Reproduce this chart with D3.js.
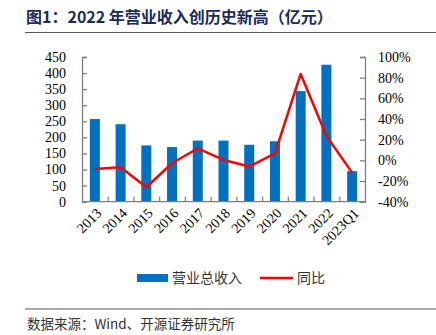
<!DOCTYPE html>
<html><head><meta charset="utf-8">
<script src="https://cdn.jsdelivr.net/npm/d3@7/dist/d3.min.js"></script>
<style>body{margin:0;background:#fff}svg{display:block}</style>
</head><body>
<svg id="c" width="436" height="335"></svg>
<script>
const categories = ["2013","2014","2015","2016","2017","2018","2019","2020","2021","2022","2023Q1"];
const revenue = [257, 241, 175, 170, 190, 190, 177, 188, 344, 426, 95];
const yoy = [-8.3, -6.7, -26, -2.8, 11.7, 0.4, -6, 6.8, 83.6, 23.6, -11.9];
const leftTicks = [0,50,100,150,200,250,300,350,400,450];
const rightTicks = [-40,-20,0,20,40,60,80,100];

const svg = d3.select("#c");
const serif = "'Liberation Serif','Times New Roman',serif";
const cjk = "'Noto Sans CJK SC','Noto Sans',sans-serif";
const L = 82, R = 365, T = 57, B = 201.7;

svg.append("text").attr("x",26).attr("y",23).attr("font-family",cjk).attr("font-weight","bold")
  .attr("font-size",16).attr("fill","#1c2a5c").text("图1：2022 年营业收入创历史新高（亿元）");
svg.append("line").attr("x1",25).attr("x2",436).attr("y1",32.5).attr("y2",32.5).attr("stroke","#555").attr("stroke-width",1.2);

const x = d3.scaleBand().domain(categories).range([L,R]);
const yL = d3.scaleLinear().domain([0,450]).range([B,T]);
const yR = d3.scaleLinear().domain([-40,100]).range([B,T]);

svg.selectAll("rect.bar").data(revenue).enter().append("rect").attr("class","bar")
  .attr("x",(d,i)=>x(categories[i])+x.bandwidth()/2-5).attr("width",10)
  .attr("y",d=>yL(d)).attr("height",d=>yL(0)-yL(d)).attr("fill","#0070c0");

const axCol = "#808080";
const gL = svg.append("g").attr("transform",`translate(${L},0)`)
  .call(d3.axisRight(yL).tickValues(leftTicks).tickSize(5).tickFormat(""));
const gR = svg.append("g").attr("transform",`translate(${R},0)`)
  .call(d3.axisLeft(yR).tickValues(rightTicks).tickSize(5).tickFormat(""));
const bounds = d3.range(1,categories.length).map(i=>x(categories[i]));
const xb = d3.scaleLinear().domain([L,R]).range([L,R]);
const gX = svg.append("g").attr("transform",`translate(0,${B})`)
  .call(d3.axisTop(xb).tickValues(bounds).tickSize(5).tickFormat(""));
[gL,gR,gX].forEach(g=>{g.select(".domain").attr("stroke",axCol).attr("stroke-width",1.3);
  g.selectAll(".tick line").attr("stroke",axCol).attr("stroke-width",1.3);});
gX.select(".domain").attr("d",`M${L},0H${R}`);

svg.append("g").selectAll("text").data(leftTicks).enter().append("text")
  .attr("x",66).attr("y",d=>yL(d)).attr("dy","0.35em").attr("text-anchor","end")
  .attr("font-family",serif).attr("font-size",14).attr("fill","#000").text(d=>d);
svg.append("g").selectAll("text").data(rightTicks).enter().append("text")
  .attr("x",378).attr("y",d=>yR(d)).attr("dy","0.35em").attr("text-anchor","start")
  .attr("font-family",serif).attr("font-size",14).attr("fill","#000").text(d=>d+"%");
svg.append("g").selectAll("text").data(categories).enter().append("text")
  .attr("transform",d=>`translate(${x(d)+x.bandwidth()/2+4},${B+9}) rotate(-45)`)
  .attr("text-anchor","end").attr("dy","0.35em")
  .attr("font-family",serif).attr("font-size",14).attr("fill","#000").text(d=>d);

const line = d3.line().x((d,i)=>x(categories[i])+x.bandwidth()/2).y(d=>yR(d));
svg.append("path").datum(yoy).attr("d",line).attr("fill","none").attr("stroke","#ff0000").attr("stroke-width",2.5).attr("stroke-linejoin","round");

svg.append("rect").attr("x",137).attr("y",274).attr("width",31).attr("height",8).attr("fill","#0070c0");
svg.append("text").attr("x",172).attr("y",283).attr("font-family",cjk).attr("font-size",14).attr("fill","#333").text("营业总收入");
svg.append("line").attr("x1",260).attr("x2",293).attr("y1",278).attr("y2",278).attr("stroke","#ff0000").attr("stroke-width",2.5);
svg.append("text").attr("x",297).attr("y",283).attr("font-family",cjk).attr("font-size",14).attr("fill","#333").text("同比");

svg.append("line").attr("x1",25).attr("x2",436).attr("y1",309).attr("y2",309).attr("stroke","#555").attr("stroke-width",1.2);
svg.append("text").attr("x",27).attr("y",329).attr("font-family",cjk).attr("font-size",13.5).attr("fill","#333").text("数据来源：Wind、开源证券研究所");
</script>
</body></html>
